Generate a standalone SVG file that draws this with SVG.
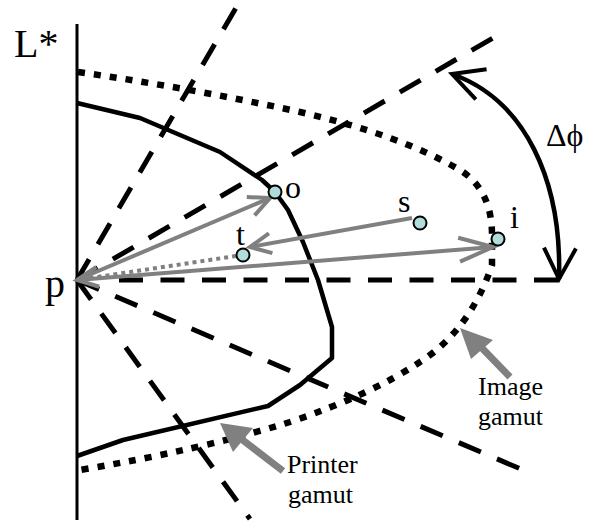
<svg xmlns="http://www.w3.org/2000/svg" width="594" height="524" viewBox="0 0 594 524">
  <style>
    text { font-family: "Liberation Serif", "Times New Roman", serif; fill: #000; }
    .big { font-size: 40px; }
    .lbl { font-size: 32px; }
    .note { font-size: 26px; }
    .ray { fill: none; stroke: #000; stroke-width: 5; stroke-dasharray: 24 17.5; }
    .gray { fill: none; stroke: #808080; stroke-width: 4; }
    .pt { fill: #b0dcdc; stroke: #000; stroke-width: 2; }
  </style>
  <defs>
    <marker id="ahs" markerUnits="userSpaceOnUse" viewBox="-30 -16 34 32" markerWidth="34" markerHeight="32" refX="0" refY="0" orient="auto" overflow="visible">
      <path d="M-21,-10 L0,0 L-21,10" fill="none" stroke="#808080" stroke-width="4"/>
    </marker>
    <marker id="ahl" markerUnits="userSpaceOnUse" viewBox="-40 -16 44 32" markerWidth="44" markerHeight="32" refX="0" refY="0" orient="auto" overflow="visible">
      <path d="M-34,-12 L0,0 L-34,12" fill="none" stroke="#808080" stroke-width="4"/>
    </marker>
    <marker id="ahk" markerUnits="userSpaceOnUse" viewBox="-36 -20 40 40" markerWidth="40" markerHeight="40" refX="0" refY="0" orient="auto-start-reverse" overflow="visible">
      <path d="M-31,-16 L0,0 L-31,16" fill="none" stroke="#000" stroke-width="4"/>
    </marker>
  </defs>

  <g id="axis">
    <line x1="77" y1="24" x2="77" y2="520" stroke="#000" stroke-width="3"/>
    <text class="big" x="14" y="57">L*</text>
  </g>

  <g id="rays">
    <line class="ray" x1="77" y1="280" x2="237" y2="6"/>
    <line class="ray" x1="77" y1="280" x2="493" y2="38"/>
    <line class="ray" x1="119" y1="280" x2="563" y2="280"/>
    <line class="ray" x1="77" y1="280" x2="523" y2="470"/>
    <line class="ray" x1="77" y1="280" x2="250" y2="519"/>
  </g>

  <g id="image-gamut">
    <path d="M78,72 Q190,88 300,112 Q400,135 460,170 Q492,190 492,235 L492,265 Q470,330 420,362 Q370,395 290,422 Q200,450 80,470" fill="none" stroke="#000" stroke-width="6.5" stroke-dasharray="7 9"/>
  </g>

  <g id="printer-gamut">
    <path d="M77,103 L140,118 L220,152 L262,180 L275,192 L288,210 L303,242 L318,280 L332,327 L332,358 L300,385 L268,406 L123,440 L77,456" fill="none" stroke="#000" stroke-width="4.5" stroke-linejoin="round"/>
  </g>

  <g id="connectors">
    <path class="gray" d="M77,280 L270,198" marker-end="url(#ahs)"/>
    <path class="gray" d="M77,280 L493,247" marker-end="url(#ahl)"/>
    <path class="gray" d="M412,218 L250,247" marker-end="url(#ahs)"/>
    <path class="gray" d="M236,256 L77,280" stroke-dasharray="4 4" marker-end="url(#ahs)"/>
    <path d="M452,74 C525,100 562,180 559,279" fill="none" stroke="#000" stroke-width="4.5" marker-start="url(#ahk)" marker-end="url(#ahk)"/>
    <line x1="510" y1="377" x2="480" y2="346" stroke="#808080" stroke-width="7"/>
    <polygon points="460,328 493,340 471,359" fill="#808080"/>
    <line x1="283" y1="471" x2="240" y2="438" stroke="#808080" stroke-width="7"/>
    <polygon points="220,423 253,428 233,452" fill="#808080"/>
  </g>

  <g id="node-p">
    <text class="big" x="45" y="297">p</text>
  </g>
  <g id="node-o">
    <circle class="pt" cx="275" cy="192" r="6.5"/>
    <text class="lbl" x="285" y="198">o</text>
  </g>
  <g id="node-t">
    <circle class="pt" cx="243" cy="255" r="6.5"/>
    <text class="lbl" x="236" y="245">t</text>
  </g>
  <g id="node-s">
    <circle class="pt" cx="420" cy="223" r="6.5"/>
    <text class="lbl" x="398" y="212">s</text>
  </g>
  <g id="node-i">
    <circle class="pt" cx="498" cy="239" r="6.5"/>
    <text class="lbl" x="510" y="228">i</text>
  </g>
  <g id="label-dphi">
    <text class="lbl" x="546" y="146" font-size="28">Δϕ</text>
  </g>
  <g id="label-image">
    <text class="note" x="478" y="395">Image</text>
    <text class="note" x="478" y="425">gamut</text>
  </g>
  <g id="label-printer">
    <text class="note" x="287" y="473">Printer</text>
    <text class="note" x="288" y="503">gamut</text>
  </g>
</svg>
